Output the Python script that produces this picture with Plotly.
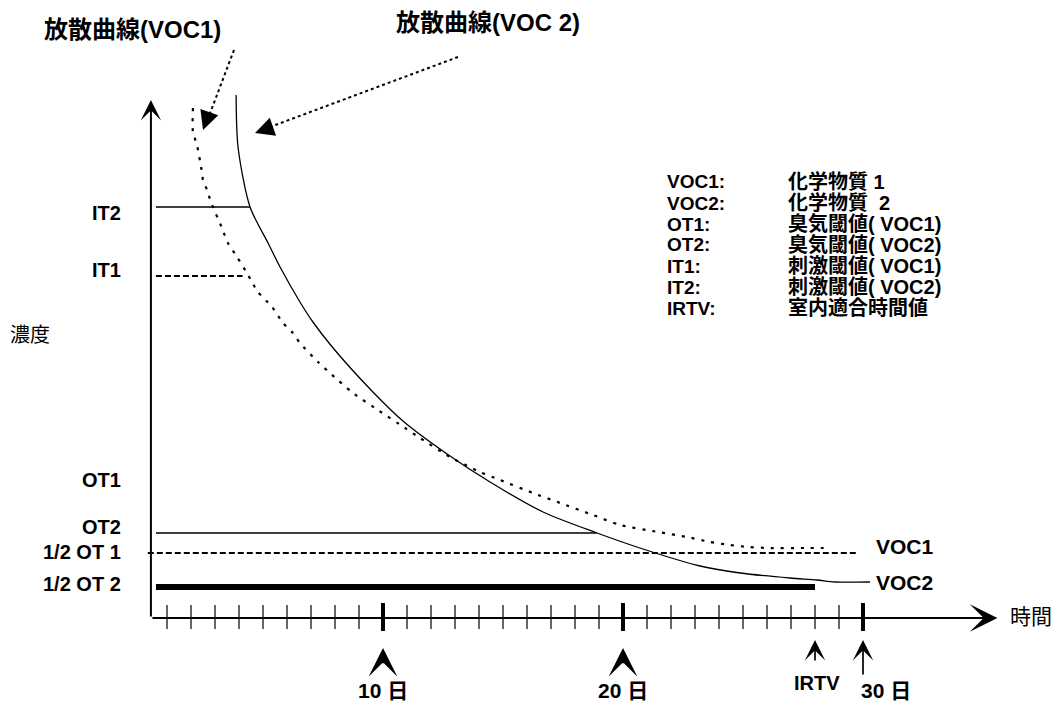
import plotly.graph_objects as go

W, H = 1057, 705

# ---------------- data (days, concentration in arbitrary units) ----------------
voc1_days = [2.08, 2.08, 2.25, 2.42, 2.5, 2.67, 2.83, 3.29, 3.54, 3.92, 4.33, 4.54, 4.79,
             5.38, 5.83, 6.21, 6.54, 7.29, 7.79, 8.75, 9.79, 10.92, 11.54, 12.79, 14.04,
             14.88, 16.25, 17.38, 18.75, 19.88, 21.46, 22.67, 23.63, 24.46, 25.21, 26.04,
             27.58, 28.63]
voc1_conc = [102.0, 97.2, 94.6, 90.2, 87.6, 85.6, 83.2, 78.0, 75.0, 72.2, 69.0, 67.2, 65.2,
             62.2, 59.0, 57.2, 55.0, 51.2, 49.0, 45.0, 41.6, 38.0, 36.0, 32.2, 29.2,
             27.6, 25.0, 23.0, 20.6, 18.6, 17.2, 16.2, 15.2, 14.6, 14.2, 14.0,
             14.0, 14.0]

voc2_days = [3.88, 3.96, 4.46, 5.21, 5.71, 6.54, 7.08, 7.92, 9.58, 10.83, 12.67,
             14.46, 16.67, 18.92, 20.83, 23.21, 24.88, 26.96, 28.08, 28.83, 30.29]
voc2_conc = [104.6, 94.2, 82.2, 75.0, 70.2, 63.2, 59.2, 54.0, 45.2, 39.4, 32.8,
             27.2, 21.2, 17.0, 13.8, 10.4, 9.0, 8.0, 7.6, 7.2, 7.2]

threshold_labels = ["IT2", "IT1", "OT2", "1/2 OT 1", "1/2 OT 2"]
threshold_conc = [82.2, 68.4, 17.0, 13.0, 6.2]
threshold_start = [0.54, 0.54, 0.54, 0.2, 0.54]
threshold_end = [4.46, 4.15, 18.9, 29.75, 28.0]

ot1_label = "OT1"
ot1_conc = 27.6

tick_days = list(range(1, 31))
major_days = [10, 20, 30]
day_labels = ["10 日", "20 日", "30 日"]
irtv_day = 28

legend_keys = ["VOC1:", "VOC2:", "OT1:", "OT2:", "IT1:", "IT2:", "IRTV:"]
legend_vals = ["化学物質 1", "化学物質  2", "臭気閾値( VOC1)", "臭気閾値( VOC2)",
               "刺激閾値( VOC1)", "刺激閾値( VOC2)", "室内適合時間値"]

# ---------------- layout constants ----------------
FONT = "Liberation Sans, Arial, Noto Sans CJK JP"
DAY0_PX, PX_PER_DAY = 143, 24
Y0_PX, PX_PER_CONC = 618, 5
XR = [-DAY0_PX / PX_PER_DAY, (W - DAY0_PX) / PX_PER_DAY]
YR = [(Y0_PX - H) / PX_PER_CONC, Y0_PX / PX_PER_CONC]
AXIS_X = 0.33
AXIS_TOP = 103.6
AXIS_RIGHT = 35.6
LABEL_SHIFT = [-6, 6, 6, 1, 3]   # pixel nudges of the y labels (IT2, IT1, OT2, 1/2OT1, 1/2OT2)


def px(x):
    return x / W


def py(y):
    return 1 - y / H


def txt(x, y, text, size, xref="paper", yref="paper", xanchor="center", bold=True, yshift=0):
    return dict(x=x, y=y, xref=xref, yref=yref, xanchor=xanchor, yanchor="middle",
                text=f"<b>{text}</b>" if bold else text, showarrow=False, yshift=yshift,
                font=dict(family=FONT, size=size, color="black"))


fig = go.Figure()

# emission curves
fig.add_trace(go.Scatter(x=voc1_days, y=voc1_conc, mode="lines",
                         line=dict(color="black", width=2.2, dash="3px,7px",
                                   shape="spline", smoothing=0.6)))
fig.add_trace(go.Scatter(x=voc2_days, y=voc2_conc, mode="lines",
                         line=dict(color="black", width=1.3, shape="spline", smoothing=0.8)))

# threshold lines
styles = [dict(width=1.3), dict(width=2, dash="6px,3px"), dict(width=1.3),
          dict(width=2, dash="6px,3px"), dict(width=6)]
for c, s, e, st in zip(threshold_conc, threshold_start, threshold_end, styles):
    fig.add_trace(go.Scatter(x=[s, e], y=[c, c], mode="lines",
                             line=dict(color="black", **st)))

# ticks
mx, my, Mx, My = [], [], [], []
for d in tick_days:
    if d in major_days:
        Mx += [d, d, None]
        My += [3.0, -2.6, None]
    else:
        mx += [d, d, None]
        my += [2.6, -2.2, None]
fig.add_trace(go.Scatter(x=mx, y=my, mode="lines", line=dict(color="black", width=1.2)))
fig.add_trace(go.Scatter(x=Mx, y=My, mode="lines", line=dict(color="black", width=4)))

annotations = []
# axes with arrowheads
annotations.append(dict(x=AXIS_X, y=AXIS_TOP, ax=AXIS_X, ay=0, xref="x", yref="y",
                        axref="x", ayref="y", showarrow=True, arrowhead=3,
                        arrowsize=1.7, arrowwidth=2, arrowcolor="black", text=""))
annotations.append(dict(x=AXIS_RIGHT, y=0, ax=AXIS_X, ay=0, xref="x", yref="y",
                        axref="x", ayref="y", showarrow=True, arrowhead=3,
                        arrowsize=2.3, arrowwidth=2, arrowcolor="black", text=""))

# day markers
for d, lab in zip(major_days, day_labels):
    if d == 30:
        annotations.append(dict(x=d, y=-4.4, ax=0, ay=36, xref="x", yref="y",
                                showarrow=True, arrowhead=3, arrowsize=2.0,
                                arrowwidth=1.7, arrowcolor="black", text=""))
        annotations.append(txt(d + 0.95, -14.4, lab, 21, xref="x", yref="y"))
    else:
        annotations.append(dict(x=d, y=-6, ax=0, ay=14, xref="x", yref="y",
                                showarrow=True, arrowhead=3, arrowsize=1.6,
                                arrowwidth=3, arrowcolor="black", text=""))
        annotations.append(txt(d, -14.4, lab, 21, xref="x", yref="y"))
annotations.append(dict(x=irtv_day, y=-4.4, ax=0, ay=22, xref="x", yref="y",
                        showarrow=True, arrowhead=3, arrowsize=2.0,
                        arrowwidth=1.7, arrowcolor="black", text=""))
annotations.append(txt(irtv_day + 0.1, -13.0, "IRTV", 20, xref="x", yref="y"))

# y labels
for lab, c, sh in zip(threshold_labels, threshold_conc, LABEL_SHIFT):
    annotations.append(txt(px(123), c, lab, 20, yref="y", xanchor="right", yshift=sh))
annotations.append(txt(px(123), ot1_conc, ot1_label, 20, yref="y", xanchor="right"))

# curve end labels
annotations.append(txt(px(874), 14.0, "VOC1", 21, yref="y", xanchor="left", yshift=2))
annotations.append(txt(px(874), 7.2, "VOC2", 21, yref="y", xanchor="left"))

# axis titles
annotations.append(txt(px(30), py(335), "濃度", 20, bold=False))
annotations.append(txt(px(1031), py(616), "時間", 21, bold=False))

# legend text block
row_y = [182, 203, 224, 245, 266, 287, 308]
for k, v, ry in zip(legend_keys, legend_vals, row_y):
    annotations.append(txt(px(665), py(ry), k, 19, xanchor="left"))
    annotations.append(txt(px(786), py(ry), v, 20, xanchor="left"))

# pointer titles
annotations.append(txt(px(132), py(30), "放散曲線(VOC1)", 24))
annotations.append(txt(px(488), py(22), "放散曲線(VOC 2)", 24))
# pointer heads
annotations.append(dict(x=px(203), y=py(130), ax=6, ay=-17, xref="paper", yref="paper",
                        showarrow=True, arrowhead=2, arrowsize=1.9, arrowwidth=2,
                        arrowcolor="black", text=""))
annotations.append(dict(x=px(255), y=py(133), ax=17, ay=-6, xref="paper", yref="paper",
                        showarrow=True, arrowhead=2, arrowsize=1.9, arrowwidth=2,
                        arrowcolor="black", text=""))

shapes = [
    dict(type="line", xref="paper", yref="paper", x0=px(234), y0=py(50), x1=px(209), y1=py(116),
         line=dict(color="black", width=2, dash="dot")),
    dict(type="line", xref="paper", yref="paper", x0=px(458), y0=py(57), x1=px(270), y1=py(127),
         line=dict(color="black", width=2, dash="dot")),
]

fig.update_layout(
    width=W, height=H,
    margin=dict(l=0, r=0, t=0, b=0, pad=0),
    paper_bgcolor="white", plot_bgcolor="white",
    showlegend=False,
    xaxis=dict(range=XR, visible=False, fixedrange=True),
    yaxis=dict(range=YR, visible=False, fixedrange=True),
    annotations=annotations,
    shapes=shapes,
)

fig.write_html("out.html", config={"displayModeBar": False},
               post_script="document.body.style.margin='0px';")
